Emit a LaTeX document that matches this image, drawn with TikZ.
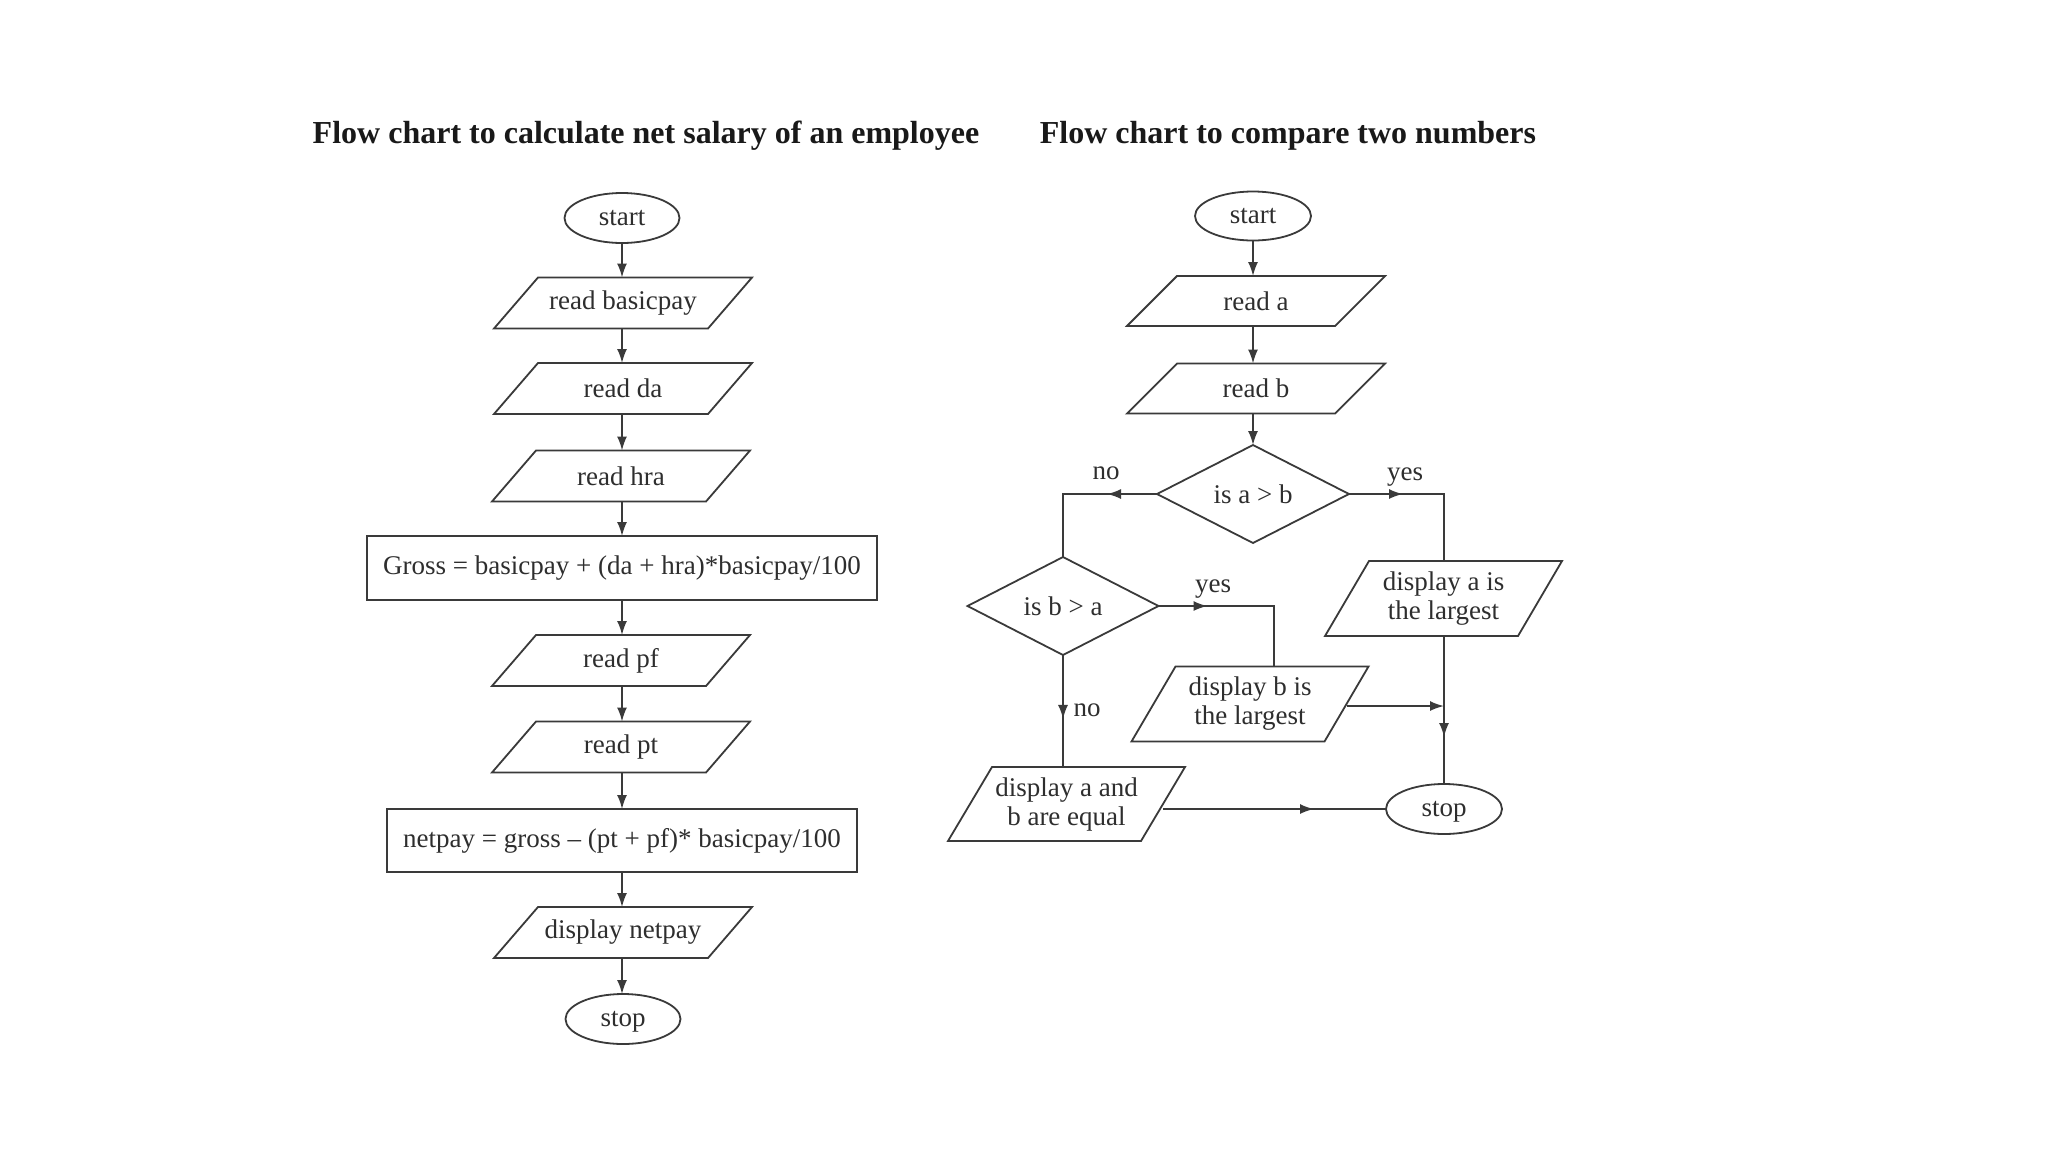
\documentclass[tikz,border=0pt]{standalone}
\usepackage{fontspec}
\setmainfont{Liberation Serif}
\usetikzlibrary{shapes.geometric, arrows.meta, decorations.markings, calc}
\definecolor{ln}{HTML}{3A3A3A}
\definecolor{txt}{HTML}{2E2E2E}
\newcommand\paral[2]{\draw[shp] ($(#1.south west)+(-#2,0)$) -- ($(#1.north west)+(#2,0)$) -- ($(#1.north east)+(#2,0)$) -- ($(#1.south east)+(-#2,0)$) -- cycle;}
\begin{document}
\begin{tikzpicture}[x=1pt,y=-1pt,
  every node/.style={text=txt, font=\fontsize{27}{29}\selectfont, inner sep=0pt, outer sep=0pt},
  ttl/.style={font=\bfseries\fontsize{32}{36}\selectfont, text=black!90},
  shp/.style={draw=ln, line width=1.8pt},
  term/.style={shp, ellipse, minimum width=115pt, minimum height=50pt, text depth=0pt},
  proc/.style={shp, rectangle, minimum width=#1, minimum height=64pt},
  dec/.style={shp, diamond, minimum width=192pt, minimum height=88pt},
  ioA/.style={rectangle, minimum width=214pt, minimum height=51pt, align=center},
  ioB/.style={rectangle, minimum width=208pt, minimum height=50pt, align=center},
  ioC/.style={rectangle, minimum width=193pt, minimum height=75pt, align=center},
  conn/.style={draw=ln, line width=1.8pt},
  arr/.style={conn, -{Latex[length=14pt,width=10pt]}},
  arrowat/.style={conn, decoration={markings, mark=at position #1 with {\arrow{Latex[length=14pt,width=10pt]}}}, postaction={decorate}},
]
\useasboundingbox[fill=white] (0,0) rectangle (2048,1152);

% titles
\node[ttl] (t1) at (646,136) {Flow chart to calculate net salary of an employee};
\node[ttl] (t2) at (1288,136) {Flow chart to compare two numbers};

% left chart
\node[term] (ls) at (622,218) {start};
\node[ioA] (rbp) at (623,303) {read basicpay};
\node[ioA] (rda) at (623,388.5) {read da};
\node[ioA] (rhra) at (621,476) {read hra};
\node[proc=510pt] (gross) at (622,568) {Gross = basicpay + (da + hra)*basicpay/100};
\node[ioA] (rpf) at (621,660.5) {read pf};
\node[ioA] (rpt) at (621,747) {read pt};
\node[proc=470pt, minimum height=63pt] (net) at (622,840.5) {netpay = gross – (pt + pf)* basicpay/100};
\node[ioA] (dnp) at (623,932.5) {display netpay};
\node[term] (lstop) at (623,1019) {stop};
\foreach \n in {rbp,rda,rhra,rpf,rpt,dnp} {\paral{\n}{22pt}}

\draw[arr] (ls) -- (ls |- rbp.north);
\draw[arr] (ls |- rbp.south) -- (ls |- rda.north);
\draw[arr] (ls |- rda.south) -- (ls |- rhra.north);
\draw[arr] (ls |- rhra.south) -- (ls |- gross.north);
\draw[arr] (ls |- gross.south) -- (ls |- rpf.north);
\draw[arr] (ls |- rpf.south) -- (ls |- rpt.north);
\draw[arr] (ls |- rpt.south) -- (ls |- net.north);
\draw[arr] (ls |- net.south) -- (ls |- dnp.north);
\draw[arr] (ls |- dnp.south) -- (ls |- lstop.north);

% right chart
\node[term, minimum width=116pt, minimum height=49pt] (rs) at (1253,216) {start};
\node[ioB] (ra) at (1256,301) {read a};
\node[ioB] (rb) at (1256,388.5) {read b};
\node[dec] (agtb) at (1253,494) {is a \textgreater{} b};
\node[dec, minimum width=191pt] (bgta) at (1063,606) {is b \textgreater{} a};
\node[ioC] (disa) at (1443.5,598.5) {display a is\\the largest};
\node[ioC] (disb) at (1250,704) {display b is\\the largest};
\node[ioC, minimum height=74pt] (disab) at (1066.5,804) {display a and\\b are equal};
\node[term, minimum width=116pt] (rstop) at (1444,809) {stop};
\paral{ra}{25pt}
\paral{rb}{25pt}
\paral{disa}{22pt}
\paral{disb}{22pt}
\paral{disab}{22pt}

\draw[arr] (rs.south) -- (rs.south |- ra.north);
\draw[arr] (rs.south |- ra.south) -- (rs.south |- rb.north);
\draw[arr] (rb.south -| agtb.north) -- (agtb.north);

\draw[arrowat=50pt] (agtb.west) -| (bgta.north);
\draw[arrowat=54pt] (agtb.east) -| (rstop.north |- disa.north);
\draw[arrowat=49pt] (bgta.east) -| ([xshift=24pt]disb.north);
\draw[arrowat=64pt] (bgta.south) -- (bgta.south |- disab.north);
\draw[arrowat=101pt] (rstop.north |- disa.south) -- (rstop.north);
\draw[arr] ([yshift=-2pt]disb.east) -- ([yshift=-2pt]disb.east -| rstop.north);
\draw[arrowat=151pt] (rstop.west -| disab.east) -- (rstop.west);

\node (lno1) at (1106,473) {no};
\node (lyes1) at (1405,477) {yes};
\node (lyes2) at (1213,589) {yes};
\node (lno2) at (1087,710) {no};
\end{tikzpicture}
\end{document}
